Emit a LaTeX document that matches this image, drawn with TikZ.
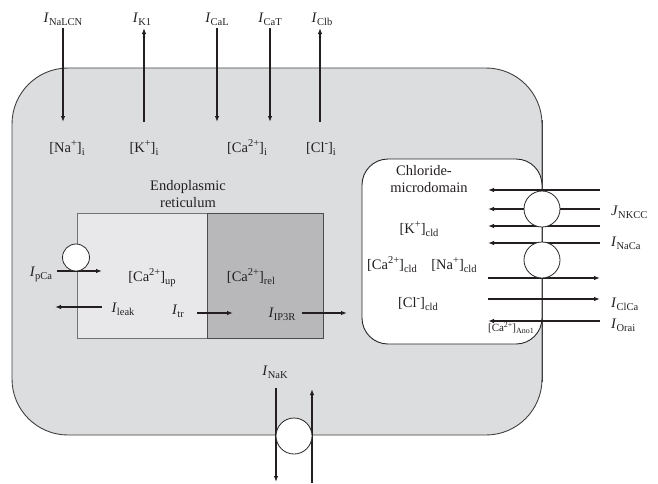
\documentclass[tikz,border=0pt]{standalone}
\usepackage{fontspec}
\setmainfont{Liberation Serif}
\usetikzlibrary{arrows.meta}
\definecolor{cellgray}{RGB}{220,221,223}
\definecolor{upgray}{RGB}{232,232,234}
\definecolor{relgray}{RGB}{184,184,186}
\definecolor{ink}{RGB}{35,31,32}
\newcommand{\sbs}[1]{\raisebox{-3pt}{\fontsize{10.5}{12}\selectfont #1}}
\newcommand{\sps}[1]{\raisebox{5.5pt}{\fontsize{10.5}{12}\selectfont #1}}
\newcommand{\Icur}[1]{\textit{I}\sbs{#1}}
\newcommand{\Jcur}[1]{\textit{J}\sbs{#1}}
\newcommand{\conc}[3]{[#1\sps{#2}]\sbs{#3}}
\newcommand{\smallconc}[3]{[#1\raisebox{4pt}{\fontsize{8}{9}\selectfont #2}]\raisebox{-2pt}{\fontsize{8}{9}\selectfont #3}}
\begin{document}
\begin{tikzpicture}[x=1pt,y=-1pt,
 lbl/.style={font=\fontsize{14.5}{16}\selectfont, inner sep=0pt, anchor=base, text=ink},
 smalllbl/.style={font=\fontsize{11}{13}\selectfont, inner sep=0pt, anchor=base, text=ink},
 flux/.style={draw=ink, line width=1.5pt, -{Latex[length=6pt,width=4.5pt]}},
 membrane/.style={draw=black!75, line width=0.9pt},
 carrier/.style={circle, draw=black!85, line width=0.8pt, fill=white, inner sep=0pt, minimum size=36pt},
 pump/.style={circle, draw=black!85, line width=0.8pt, fill=white, inner sep=0pt, minimum size=27pt}
]
\useasboundingbox (0,0) rectangle (658,483);
% cell
\path[membrane, fill=cellgray, rounded corners=56pt] (12,68) rectangle (542,435);
% endoplasmic reticulum
\path[draw=black!55, line width=0.8pt, fill=upgray] (77,213) rectangle (207,338);
\path[draw=black!70, line width=0.8pt, fill=relgray] (207,213) rectangle (323,338);
% chloride microdomain
\path[draw=black!85, line width=0.9pt, fill=white, rounded corners=26pt] (362,159) rectangle (542,344);
\coordinate (memTop) at (542,120);
\coordinate (memBot) at (542,382);
\draw[membrane] (memTop) -- (memBot);

% top fluxes
\node[lbl] (lNaLCN) at (63,22) {\Icur{NaLCN}};
\node[lbl] (lK1) at (142,22) {\Icur{K1}};
\node[lbl] (lCaL) at (217,22) {\Icur{CaL}};
\node[lbl] (lCaT) at (270,22) {\Icur{CaT}};
\node[lbl] (lClb) at (322,22) {\Icur{Clb}};
\node[lbl] (cNa) at (67,152) {\conc{Na}{+}{i}};
\node[lbl] (cK) at (144,152) {\conc{K}{+}{i}};
\node[lbl] (cCa) at (247,152) {\conc{Ca}{2+}{i}};
\node[lbl] (cCl) at (321,152) {\conc{Cl}{-}{i}};
\coordinate (t1a) at (63,28);  \coordinate (t1b) at (63,122);
\coordinate (t2a) at (144,122); \coordinate (t2b) at (144,28);
\coordinate (t3a) at (217,28); \coordinate (t3b) at (217,122);
\coordinate (t4a) at (270,28); \coordinate (t4b) at (270,122);
\coordinate (t5a) at (320,122); \coordinate (t5b) at (320,28);
\draw[flux] (t1a) -- (t1b);
\draw[flux] (t2a) -- (t2b);
\draw[flux] (t3a) -- (t3b);
\draw[flux] (t4a) -- (t4b);
\draw[flux] (t5a) -- (t5b);

% ER labels and fluxes
\node[lbl] (erA) at (188,190) {Endoplasmic};
\node[lbl] (erB) at (188,207) {reticulum};
\node[lbl] (cUp) at (152,281) {\conc{Ca}{2+}{up}};
\node[lbl] (cRel) at (251,281) {\conc{Ca}{2+}{rel}};
\node[lbl] (lpCa) at (41,276) {\Icur{pCa}};
\node[lbl] (lleak) at (123,312) {\Icur{leak}};
\node[lbl] (ltr) at (178,314) {\Icur{tr}};
\node[lbl] (lIP3R) at (282,317) {\Icur{IP3R}};
\coordinate (pa) at (57,271); \coordinate (pb) at (102,271);
\coordinate (la) at (102,307); \coordinate (lb) at (55,307);
\coordinate (ra) at (197,313); \coordinate (rb) at (233,313);
\coordinate (ia) at (302,313); \coordinate (ib) at (347,313);
\draw[flux] (pa) -- (pb);
\draw[flux] (la) -- (lb);
\draw[flux] (ra) -- (rb);
\draw[flux] (ia) -- (ib);
\node[pump] (serca) at (76,257.5) {};

% chloride microdomain labels
\node[lbl] (mdA) at (424,175) {Chloride-};
\node[lbl] (mdB) at (429,192) {microdomain};
\node[lbl] (cKcld) at (419,233) {\conc{K}{+}{cld}};
\node[lbl] (cCacld) at (392,269) {\conc{Ca}{2+}{cld}};
\node[lbl] (cNacld) at (454,269) {\conc{Na}{+}{cld}};
\node[lbl] (cClcld) at (418,307) {\conc{Cl}{-}{cld}};
\node[smalllbl] (cAno) at (511,331) {\smallconc{Ca}{2+}{Ano1}};

% right fluxes
\foreach \y/\n in {190/r1,209/r2,226/r3,243/r4,321/r7}{
  \coordinate (\n a) at (600,\y); \coordinate (\n b) at (488,\y);
  \draw[flux] (\n a) -- (\n b);
}
\foreach \y/\n in {278/r5,299/r6}{
  \coordinate (\n a) at (488,\y); \coordinate (\n b) at (600,\y);
  \draw[flux] (\n a) -- (\n b);
}
\node[carrier] (nkcc) at (542,209) {};
\node[carrier] (ncx) at (542,260) {};
\node[lbl, anchor=base west] (lNKCC) at (611,215) {\Jcur{NKCC}};
\node[lbl, anchor=base west] (lNaCa) at (611,246) {\Icur{NaCa}};
\node[lbl, anchor=base west] (lClCa) at (611,307) {\Icur{ClCa}};
\node[lbl, anchor=base west] (lOrai) at (611,328) {\Icur{Orai}};

% Na/K pump
\node[lbl] (lNaK) at (275,375) {\Icur{NaK}};
\coordinate (ka) at (276,388); \coordinate (kb) at (276,482);
\coordinate (kc) at (312,483); \coordinate (kd) at (312,389);
\draw[flux] (ka) -- (kb);
\draw[flux] (kc) -- (kd);
\node[carrier] (nak) at (294,436) {};
\end{tikzpicture}
\end{document}
